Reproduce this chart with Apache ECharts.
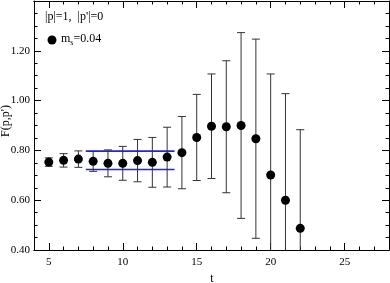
<!DOCTYPE html>
<html><head><meta charset="utf-8">
<script src="https://cdn.jsdelivr.net/npm/echarts@6/dist/echarts.min.js"></script>
<style>html,body{margin:0;padding:0;background:#fff}#c{width:390px;height:283px}</style>
</head><body><div id="c"></div>
<script>
var tValues = [5,6,7,8,9,10,11,12,13,14,15,16,17,18,19,20,21,22];
var fValues = [0.753,0.760,0.765,0.756,0.748,0.748,0.759,0.752,0.773,0.791,0.852,0.897,0.895,0.900,0.847,0.701,0.600,0.487];
var fErrors = [0.017,0.027,0.033,0.040,0.054,0.068,0.085,0.100,0.120,0.145,0.173,0.210,0.265,0.373,0.400,0.406,0.428,0.396];
var fitRange = [7.5, 13.5];
var fitUpper = 0.797;
var fitLower = 0.723;
var xMajorTicks = [5,10,15,20,25];

var serif = 'Liberation Serif';
var pts = tValues.map(function(t,i){return [t,fValues[i]];});
var bars = tValues.map(function(t,i){return [t,fValues[i]-fErrors[i],fValues[i]+fErrors[i]];});

function xAx(pos, major){
  var a = {type:'value', position:pos, min:4, max:28, interval:1,
    axisLine:{show:true,onZero:false,lineStyle:{color:'#000',width:1}},
    splitLine:{show:false},
    axisTick:{show:true,inside:true,length:major?7:3.5,lineStyle:{color:'#000'}},
    axisLabel:{show:false}};
  if(major){
    a.axisTick.customValues = xMajorTicks;
    if(pos==='bottom'){
      a.axisLabel = {show:true, customValues:xMajorTicks, fontFamily:serif, fontSize:11, color:'#000', margin:7};
    }
  }
  return a;
}
function yAx(pos){
  return {type:'value', position:pos, min:0.4, max:1.4, interval:0.2,
    axisLine:{show:true,onZero:false,lineStyle:{color:'#000',width:1}},
    splitLine:{show:false},
    axisTick:{show:true,inside:true,length:7,lineStyle:{color:'#000'}},
    minorTick:{show:true,splitNumber:4,length:3.5,lineStyle:{color:'#000'}},
    axisLabel:{show:pos==='left', showMaxLabel:false, fontFamily:serif, fontSize:11, color:'#000', margin:4,
      formatter:function(v){return v.toFixed(2);}}};
}

var chart = echarts.init(document.getElementById('c'), null, {renderer:'canvas'});
chart.setOption({
  animation:false,
  grid:{left:34, right:1, top:1, bottom:33, containLabel:false},
  xAxis:[xAx('bottom',true), xAx('bottom',false), xAx('top',true), xAx('top',false)],
  yAxis:[yAx('left'), yAx('right')],
  series:[
    {type:'line', xAxisIndex:0, yAxisIndex:0, data:[[fitRange[0],fitUpper],[fitRange[1],fitUpper]],
      symbol:'none', lineStyle:{color:'#2222ee', width:1.6}, z:2},
    {type:'line', xAxisIndex:0, yAxisIndex:0, data:[[fitRange[0],fitLower],[fitRange[1],fitLower]],
      symbol:'none', lineStyle:{color:'#2222ee', width:1.6}, z:2},
    {type:'custom', xAxisIndex:0, yAxisIndex:0, clip:true, data:bars,
      renderItem:function(params, api){
        var t=api.value(0), lo=api.value(1), hi=api.value(2);
        var p1=api.coord([t,lo]), p2=api.coord([t,hi]);
        var w=4, st={stroke:'#333', lineWidth:1};
        return {type:'group', children:[
          {type:'line', shape:{x1:p1[0],y1:p1[1],x2:p2[0],y2:p2[1]}, style:st},
          {type:'line', shape:{x1:p1[0]-w,y1:p1[1],x2:p1[0]+w,y2:p1[1]}, style:st},
          {type:'line', shape:{x1:p2[0]-w,y1:p2[1],x2:p2[0]+w,y2:p2[1]}, style:st}
        ]};
      }, z:3},
    {type:'scatter', xAxisIndex:0, yAxisIndex:0, data:pts, symbol:'circle', symbolSize:9,
      itemStyle:{color:'#000', opacity:1}, z:4}
  ],
  graphic:[
    {type:'text', left:45, top:11, style:{text:"|p|=1,  |p'|=0", fontFamily:serif, fontSize:12, fill:'#000'}},
    {type:'circle', shape:{cx:52, cy:40, r:4.5}, style:{fill:'#000'}},
    {type:'text', left:61, top:33, style:{
      text:'{a|m}{b|s}{a|=0.04}',
      rich:{a:{fontFamily:serif,fontSize:12,fill:'#000'}, b:{fontFamily:serif,fontSize:8,fill:'#000',verticalAlign:'bottom',padding:[8,0,0,0]}}}},
    {type:'text', x:6, y:121, rotation:Math.PI/2, style:{text:"F(p,p')", fontFamily:serif, fontSize:12, fill:'#000', align:'center', verticalAlign:'middle'}},
    {type:'text', x:212, y:279, style:{text:'t', fontFamily:serif, fontSize:12, fill:'#000', align:'center', verticalAlign:'middle'}}
  ]
});
</script></body></html>
